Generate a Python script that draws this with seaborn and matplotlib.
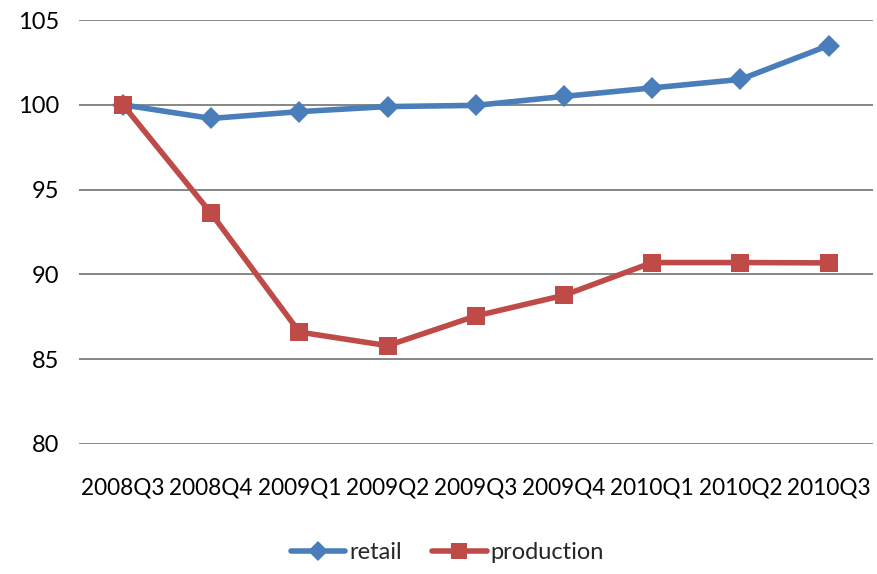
import matplotlib
matplotlib.use("Agg")
import matplotlib.pyplot as plt
import seaborn as sns
import pandas as pd
from matplotlib.lines import Line2D

quarters = ["2008Q3", "2008Q4", "2009Q1", "2009Q2", "2009Q3",
            "2009Q4", "2010Q1", "2010Q2", "2010Q3"]
retail = [100.0, 99.2, 99.6, 99.9, 99.97, 100.5, 101.0, 101.5, 103.5]
production = [100.0, 93.6, 86.6, 85.8, 87.55, 88.77, 90.7, 90.7, 90.68]
y_ticks = [80, 85, 90, 95, 100, 105]

df = pd.DataFrame({
    "pos": list(range(len(quarters))) * 2,
    "value": retail + production,
    "series": ["retail"] * len(quarters) + ["production"] * len(quarters),
})

sns.set_theme(style="white")
plt.rcParams["font.family"] = ["Lato", "DejaVu Sans"]

fig = plt.figure(figsize=(8.77, 5.74), dpi=100)
ax = fig.add_axes([0.090, 0.2265, 0.905, 0.7385])

palette = {"retail": "#4A7EBB", "production": "#BE4B48"}
markers = {"retail": "D", "production": "s"}
sns.lineplot(data=df, x="pos", y="value", hue="series", style="series",
             palette=palette, markers=markers, dashes=False, sort=False,
             linewidth=4.0, markersize=13, markeredgewidth=0, ax=ax,
             legend=False, zorder=3)
# diamonds look larger than squares at the same size
for line in ax.lines:
    if line.get_marker() == "D":
        line.set_markersize(11)

ax.set_xlim(-0.5, len(quarters) - 0.5)
ax.set_ylim(80, 105)
ax.set_xticks(range(len(quarters)))
ax.set_xticklabels(quarters)
ax.set_yticks(y_ticks)
ax.set_xlabel("")
ax.set_ylabel("")
ax.tick_params(axis="both", length=0, colors="#000000")
ax.tick_params(axis="x", pad=24, labelsize=16.3)
ax.tick_params(axis="y", pad=14, labelsize=17)
ax.yaxis.grid(True, color="#868686", linewidth=1.4)
ax.xaxis.grid(False)
for s in ax.spines.values():
    s.set_visible(False)

handles = [
    Line2D([], [], color=palette["retail"], marker="D", linewidth=4.0,
           markersize=10, markeredgewidth=0),
    Line2D([], [], color=palette["production"], marker="s", linewidth=4.0,
           markersize=12, markeredgewidth=0),
]
fig.legend(handles, ["retail", "production"], loc="center",
           bbox_to_anchor=(0.51, 0.037), ncol=2, frameon=False,
           fontsize=17, handlelength=2.3, handletextpad=0.15,
           columnspacing=1.3)

fig.savefig("out.png", dpi=100)
